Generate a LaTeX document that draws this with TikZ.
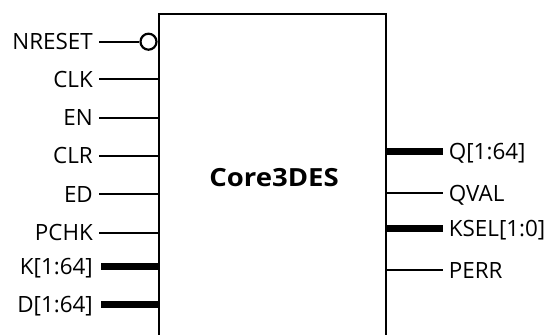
\documentclass[tikz,border=0pt]{standalone}
\usepackage{fontspec}
\setmainfont{Open Sans}
\usetikzlibrary{positioning}

\begin{document}
\begin{tikzpicture}[
  x=1pt,y=-1pt,
  font=\fontsize{22.4}{26}\selectfont,
  core/.style={draw,line width=2.2pt,minimum width=227pt,minimum height=360pt,inner sep=0pt},
  pinlbl/.style={inner xsep=6pt,inner ysep=0pt,text height=16pt,text depth=0pt},
  sig/.style={line width=2.2pt},
  bus/.style={line width=7pt},
  inv/.style={draw,circle,line width=2.2pt,minimum size=16pt,inner sep=0pt}
]
\useasboundingbox (0,0) rectangle (553,334);
\clip (0,0) rectangle (553,334);
\node[core,anchor=north west] (core) at (157.7,13) {};
\node[font=\fontsize{25}{29}\selectfont\bfseries] (title) at (274,178) {\scalebox{1.1}[1]{Core3DES}};
% inputs
\node[pinlbl,anchor=east] (nreset) at (99,41.7) {NRESET};
\node[pinlbl,anchor=east] (clk) at (99,79.3) {CLK};
\node[pinlbl,anchor=east] (en) at (99,117.7) {EN};
\node[pinlbl,anchor=east] (clr) at (99,155.7) {CLR};
\node[pinlbl,anchor=east] (ed) at (99,194) {ED};
\node[pinlbl,anchor=east] (pchk) at (99,232.7) {PCHK};
\node[pinlbl,anchor=east] (k) at (99,266.7) {K[1:64]};
\node[pinlbl,anchor=east] (d) at (99,304.7) {D[1:64]};
\node[inv] (nrstinv) at (148.5,41.7) {};
% outputs
\node[pinlbl,anchor=west] (q) at (442.7,151.7) {Q[1:64]};
\node[pinlbl,anchor=west] (qval) at (442.7,193.3) {QVAL};
\node[pinlbl,anchor=west] (ksel) at (442.7,228.3) {KSEL[1:0]};
\node[pinlbl,anchor=west] (perr) at (442.7,270) {PERR};
\draw[sig] (nreset.east) -- (nrstinv.west);
\draw[sig] (clk.east) -- (clk.east -| core.west);
\draw[sig] (en.east) -- (en.east -| core.west);
\draw[sig] (clr.east) -- (clr.east -| core.west);
\draw[sig] (ed.east) -- (ed.east -| core.west);
\draw[sig] (pchk.east) -- (pchk.east -| core.west);
\draw[bus] ([xshift=2pt]k.east) -- (k.east -| core.west);
\draw[bus] ([xshift=2pt]d.east) -- (d.east -| core.west);
\draw[bus] (q.west -| core.east) -- (q.west);
\draw[sig] (qval.west -| core.east) -- (qval.west);
\draw[bus] (ksel.west -| core.east) -- (ksel.west);
\draw[sig] (perr.west -| core.east) -- (perr.west);
\end{tikzpicture}
\end{document}
